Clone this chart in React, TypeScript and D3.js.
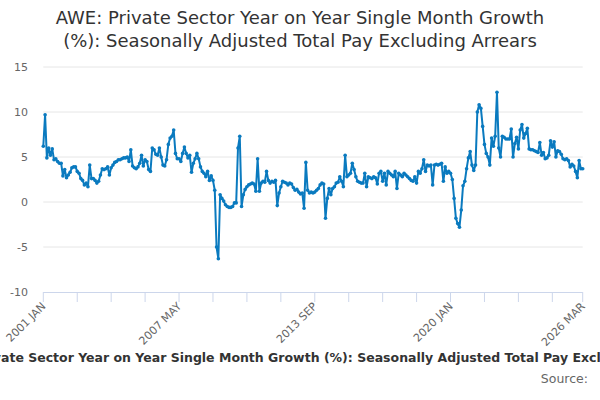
import React from "react";
import * as d3 from "d3";

const MONTHS = ["JAN","FEB","MAR","APR","MAY","JUN","JUL","AUG","SEP","OCT","NOV","DEC"];
const startYear = 2001;

const values: number[] = [
  // 2001
  6.2, 9.7, 4.9, 6.0, 5.2, 5.9, 4.7, 4.8, 4.5, 4.3, 4.3, 2.9,
  // 2002
  3.6, 2.7, 3.0, 3.3, 3.8, 3.9, 3.9, 3.4, 3.2, 2.6, 2.4, 1.9,
  // 2003
  2.1, 1.7, 4.1, 2.6, 2.6, 2.4, 2.1, 2.3, 3.0, 3.7, 3.6, 3.7,
  // 2004
  3.9, 3.0, 3.8, 4.1, 4.4, 4.5, 4.7, 4.7, 4.8, 4.9, 4.9, 5.0,
  // 2005
  4.5, 5.8, 4.0, 3.8, 3.7, 3.9, 4.3, 5.2, 4.0, 4.7, 4.5, 3.6,
  // 2006
  3.4, 6.0, 5.8, 5.3, 5.2, 6.0, 5.0, 4.1, 4.0, 4.7, 6.4, 7.1,
  // 2007
  7.3, 8.0, 5.4, 4.8, 4.8, 4.5, 5.4, 6.1, 5.4, 4.9, 5.2, 3.3,
  // 2008
  4.3, 4.8, 5.4, 4.8, 3.9, 3.4, 3.2, 2.8, 3.4, 2.4, 2.9, 2.4,
  // 2009
  1.3, -5.0, -6.3, 0.8, 0.4, 0.1, -0.3, -0.5, -0.6, -0.6, -0.5, -0.1,
  // 2010
  -0.1, 6.0, 7.3, -0.5, 0.8, 1.4, 1.7, 1.9, 2.0, 2.1, 2.0, 1.2,
  // 2011
  4.8, 1.2, 2.1, 2.3, 2.2, 3.4, 2.4, 2.1, 2.3, 2.2, 2.4, -0.4,
  // 2012
  1.0, 1.7, 2.3, 2.2, 2.1, 1.9, 2.1, 2.0, 1.6, 1.3, 1.4, 1.1,
  // 2013
  0.9, 1.0, -0.7, 4.4, 1.3, 1.0, 1.1, 1.0, 1.1, 1.3, 1.5, 1.9,
  // 2014
  2.1, 2.0, -1.8, 0.4, 1.5, 0.8, 1.5, 1.7, 2.1, 2.2, 2.8, 2.3,
  // 2015
  1.7, 5.2, 2.8, 3.0, 3.2, 4.3, 3.6, 2.8, 2.3, 2.2, 2.1, 2.1,
  // 2016
  3.2, 1.7, 2.8, 2.7, 2.6, 2.8, 2.7, 2.0, 3.2, 3.4, 2.3, 3.2,
  // 2017
  1.9, 3.4, 3.2, 3.0, 2.8, 3.4, 1.5, 3.2, 3.0, 2.8, 3.2, 3.0,
  // 2018
  2.8, 2.6, 2.4, 2.3, 2.8, 2.1, 3.4, 3.2, 3.7, 4.7, 3.4, 4.1,
  // 2019
  4.0, 4.1, 1.9, 4.1, 4.2, 4.1, 4.2, 4.3, 2.3, 3.9, 3.2, 3.4,
  // 2020
  3.2, 2.5, 0.4, -1.8, -2.4, -2.8, -0.9, 1.8, 2.3, 3.7, 4.9, 5.6,
  // 2021
  4.1, 3.5, 4.1, 10.0, 10.8, 10.4, 8.4, 6.4, 5.4, 5.0, 4.1, 7.1,
  // 2022
  6.2, 7.3, 12.2, 6.0, 5.0, 7.3, 7.2, 7.0, 7.0, 7.0, 8.1, 5.0,
  // 2023
  6.5, 7.2, 5.9, 8.0, 8.6, 7.1, 7.6, 8.2, 5.9, 5.8, 5.8, 5.7,
  // 2024
  5.6, 5.5, 6.6, 5.2, 5.5, 4.8, 4.9, 5.2, 6.8, 6.1, 6.7, 5.0,
  // 2025
  5.7, 5.6, 5.3, 4.8, 4.7, 4.8, 4.6, 3.9, 4.2, 4.0, 3.4, 2.7,
  // 2026
  4.6, 3.7, 3.7,
];

const categories: string[] = values.map(
  (_, i) => `${startYear + Math.floor(i / 12)} ${MONTHS[i % 12]}`
);

const yTicks = [15, 10, 5, 0, -5, -10];
const tickInterval = 19;
const labelEvery = 4;

const titleLines = [
  "AWE: Private Sector Year on Year Single Month Growth",
  "(%): Seasonally Adjusted Total Pay Excluding Arrears",
];
const seriesName =
  "AWE: Private Sector Year on Year Single Month Growth (%): Seasonally Adjusted Total Pay Excluding Arrears";

const W = 600;
const H = 400;
const left = 43.3;
const right = 582.7;
const top = 67;
const bottom = 292;
const FONT = "'DejaVu Sans', Verdana, sans-serif";
const COLOR = "#0a7abf";

export default function App() {
  const x = d3.scaleLinear().domain([0, values.length - 1]).range([left, right]);
  const y = d3.scaleLinear().domain([-10, 15]).range([bottom, top]);

  const line = d3
    .line<number>()
    .x((_, i) => x(i))
    .y((d) => y(d));

  const tickIdx: number[] = [];
  for (let i = 0; i < values.length; i += tickInterval) tickIdx.push(i);
  if (tickIdx[tickIdx.length - 1] !== values.length - 1) tickIdx.push(values.length - 1);

  const labelIdx = tickIdx.filter((_, k) => k % labelEvery === 0);
  if (labelIdx[labelIdx.length - 1] !== values.length - 1) labelIdx.push(values.length - 1);

  return (
    <svg
      width={W}
      height={H}
      style={{ position: "absolute", left: 0, top: 0, background: "#fff" }}
      fontFamily={FONT}
    >
      <rect x={0} y={0} width={W} height={H} fill="#ffffff" />
      {titleLines.map((t, i) => (
        <text
          key={i}
          x={W / 2}
          y={24 + i * 23}
          textAnchor="middle"
          fontSize={18}
          fill="#333333"
        >
          {t}
        </text>
      ))}

      {yTicks.map((t) => (
        <g key={t}>
          {t !== -10 && (
            <line x1={left} x2={right} y1={y(t)} y2={y(t)} stroke="#e6e6e6" strokeWidth={1} />
          )}
          <text x={28} y={y(t) + 4} textAnchor="end" fontSize={11} fill="#666666">
            {t}
          </text>
        </g>
      ))}

      <line x1={left} x2={right} y1={bottom + 0.5} y2={bottom + 0.5} stroke="#ccd6eb" strokeWidth={1} />
      {tickIdx.map((i) => (
        <line
          key={i}
          x1={x(i)}
          x2={x(i)}
          y1={bottom}
          y2={bottom + 10}
          stroke="#ccd6eb"
          strokeWidth={1}
        />
      ))}
      {labelIdx.map((i) => (
        <text
          key={i}
          transform={`translate(${x(i) + 3},${bottom + 15}) rotate(-45)`}
          textAnchor="end"
          fontSize={11}
          fill="#666666"
        >
          {categories[i]}
        </text>
      ))}

      <path d={line(values) || ""} fill="none" stroke={COLOR} strokeWidth={2} strokeLinejoin="round" />
      {values.map((v, i) => (
        <circle key={i} cx={x(i)} cy={y(v)} r={1.8} fill={COLOR} />
      ))}

      <text x={315} y={362} textAnchor="middle" fontSize={12.5} fontWeight="bold" fill="#333333">
        {seriesName}
      </text>
      <text x={588} y={383} textAnchor="end" fontSize={12.5} fill="#666666">
        Source:
      </text>
    </svg>
  );
}
